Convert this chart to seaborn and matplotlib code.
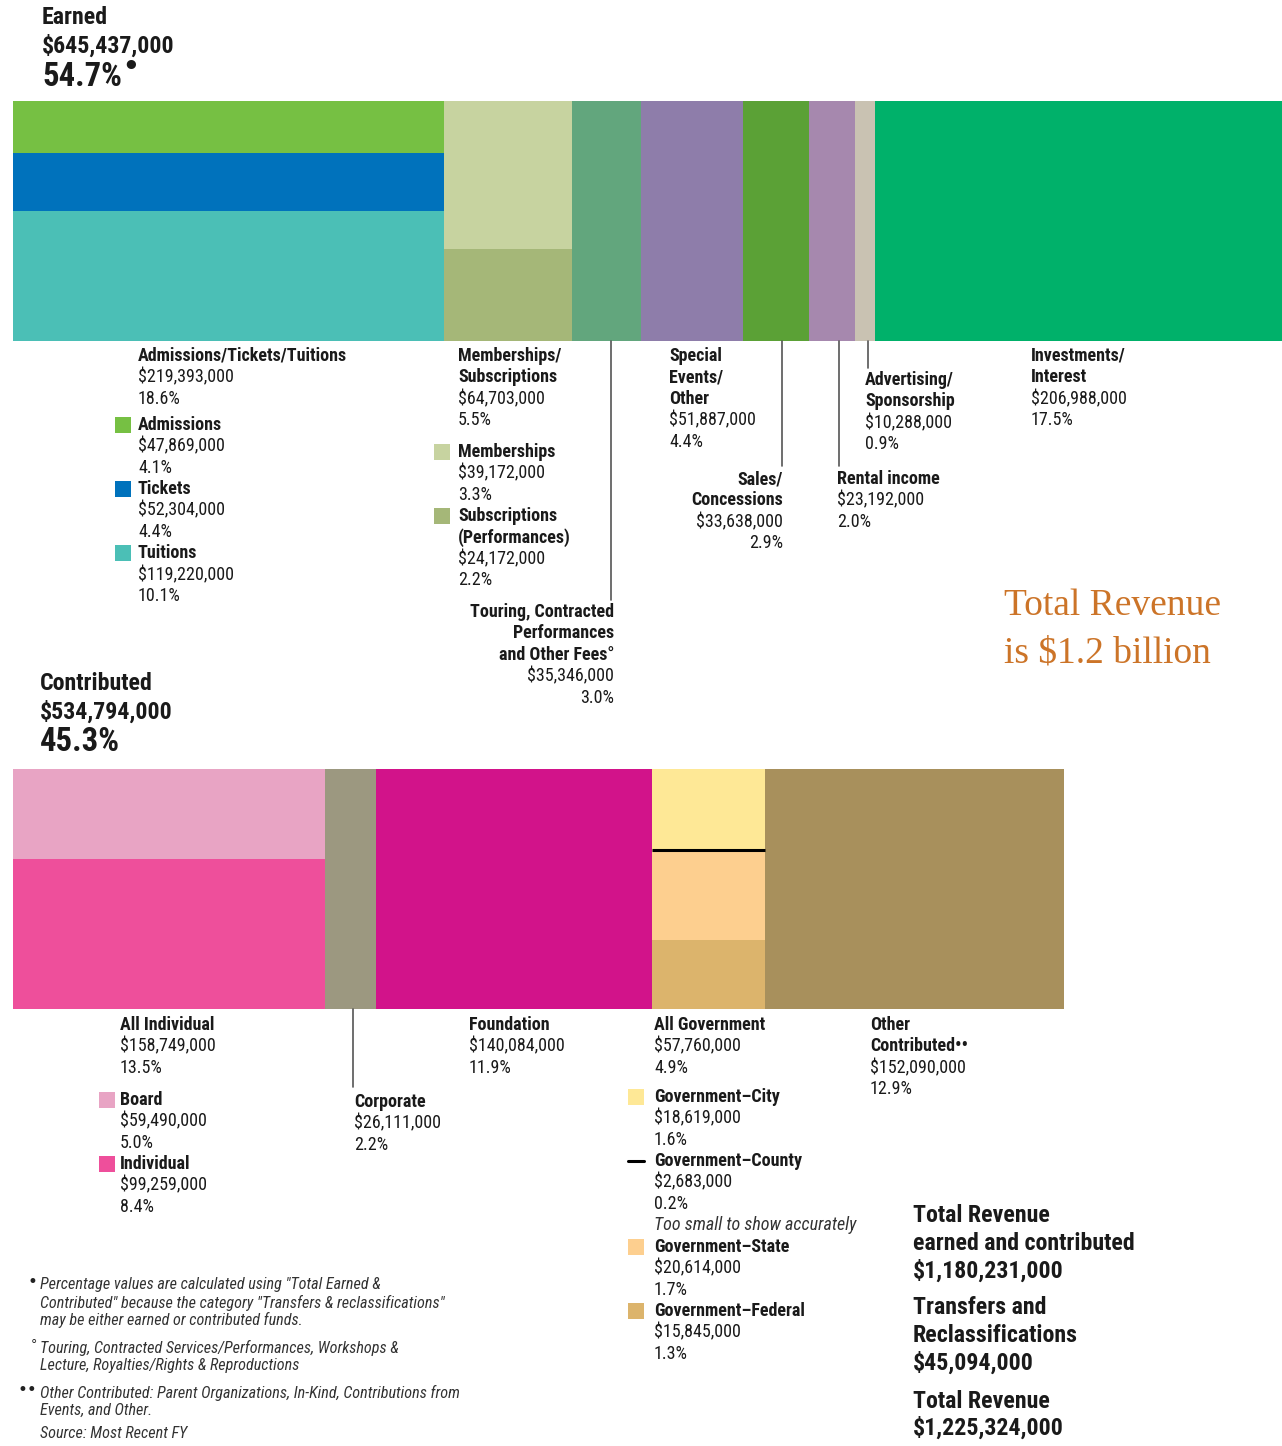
import matplotlib
matplotlib.use("Agg")
import matplotlib.pyplot as plt
from matplotlib import font_manager
from matplotlib.patches import Rectangle
import seaborn as sns

# ---- data (dollars) ----
earned_labels = ["Admissions/Tickets/Tuitions", "Memberships/\nSubscriptions",
                 "Touring, Contracted\nPerformances\nand Other Fees°", "Special\nEvents/\nOther",
                 "Sales/\nConcessions", "Rental income", "Advertising/\nSponsorship",
                 "Investments/\nInterest"]
earned_values = [219393000, 64703000, 35346000, 51887000, 33638000, 23192000, 10288000, 206988000]
earned_pcts = [18.6, 5.5, 3.0, 4.4, 2.9, 2.0, 0.9, 17.5]
earned_colors = [None, None, "#62A67D", "#8E7DAA", "#5BA136", "#A688AE", "#C9C2B2", "#00B16A"]

admissions_labels = ["Admissions", "Tickets", "Tuitions"]
admissions_values = [47869000, 52304000, 119220000]
admissions_pcts = [4.1, 4.4, 10.1]
admissions_colors = ["#76C043", "#0072BC", "#4BBFB6"]

member_labels = ["Memberships", "Subscriptions\n(Performances)"]
member_values = [39172000, 24172000]
member_pcts = [3.3, 2.2]
member_colors = ["#C7D3A0", "#A5B778"]

contrib_labels = ["All Individual", "Corporate", "Foundation", "All Government", "Other\nContributed••"]
contrib_values = [158749000, 26111000, 140084000, 57760000, 152090000]
contrib_pcts = [13.5, 2.2, 11.9, 4.9, 12.9]
contrib_colors = [None, "#9C9880", "#D2138A", None, "#A8905C"]

indiv_labels = ["Board", "Individual"]
indiv_values = [59490000, 99259000]
indiv_pcts = [5.0, 8.4]
indiv_colors = ["#E8A4C4", "#EE4F9B"]

gov_labels = ["Government–City", "Government–County", "Government–State", "Government–Federal"]
gov_values = [18619000, 2683000, 20614000, 15845000]
gov_pcts = [1.6, 0.2, 1.7, 1.3]
gov_colors = ["#FEE896", "#000000", "#FDCF8F", "#DCB46C"]

earned_total, earned_pct = 645437000, 54.7
contrib_total, contrib_pct = 534794000, 45.3
total_ec = 1180231000
transfers = 45094000
total_rev = 1225324000

# ---- style ----
sns.set_theme(style="white")
fonts = font_manager.fontManager.ttflist


def has(name, stretch=None):
    return any(f.name == name and (stretch is None or str(f.stretch) == stretch) for f in fonts)


STRETCH = "normal"
if has("Roboto Condensed"):
    FONT, SCALE = "Roboto Condensed", 1.0
elif has("Liberation Sans Narrow"):
    FONT, SCALE = "Liberation Sans Narrow", 1.0
elif has("DejaVu Sans", "condensed"):
    FONT, SCALE, STRETCH = "DejaVu Sans", 0.95, "condensed"
elif has("Roboto"):
    FONT, SCALE = "Roboto", 0.92
else:
    FONT, SCALE = "DejaVu Sans", 0.85
SERIF = "Liberation Serif" if has("Liberation Serif") else "DejaVu Serif"
plt.rcParams["font.family"] = [FONT, "DejaVu Sans"]
plt.rcParams["font.stretch"] = STRETCH

W, H = 1282, 1446
fig = plt.figure(figsize=(W / 100, H / 100), dpi=100)
fig.patch.set_facecolor("white")

# bar axis: x in $ millions, y in layout pixels
scale = (W - 13) / (earned_total / 1e6)  # px per million
ax = fig.add_axes([0, 0, 1, 1])
ax.set_xlim(-13 / scale, (W - 13) / scale)
ax.set_ylim(H, 0)
ax.axis("off")

# text axis in pixels
at = fig.add_axes([0, 0, 1, 1])
at.set_xlim(0, W)
at.set_ylim(H, 0)
at.axis("off")
at.patch.set_alpha(0)

BAR_H = 240


def stacked_column(left, width, top, vals, cols):
    tot = sum(vals)
    y = top
    for v, c in zip(vals, cols):
        h = BAR_H * v / tot
        ax.bar(left, h, width=width, bottom=y, align="edge", color=c, linewidth=0)
        y += h


def draw_row(values, colors, top, subs):
    rows = []
    left = 0.0
    for i, (v, c) in enumerate(zip(values, colors)):
        w = v / 1e6
        rows.append((left, w))
        if i in subs:
            sv, sc = subs[i]
            stacked_column(left, w, top, sv, sc)
        else:
            ax.bar(left, BAR_H, width=w, bottom=top, align="edge", color=c, linewidth=0)
        left += w
    return rows


earned_cols = draw_row(earned_values, earned_colors, 101,
                       {0: (admissions_values, admissions_colors),
                        1: (member_values, member_colors)})

gov_draw = [gov_values[0], gov_values[2], gov_values[3]]
gov_draw_c = [gov_colors[0], gov_colors[2], gov_colors[3]]
contrib_cols = draw_row(contrib_values, contrib_colors, 769,
                        {0: (indiv_values, indiv_colors),
                         3: (gov_draw, gov_draw_c)})
# county too small: shown as a line between city and state
gl, gw = contrib_cols[3]
yc = 769 + BAR_H * gov_draw[0] / sum(gov_draw)
ax.hlines(yc, gl, gl + gw, color="black", linewidth=2.2)

LH = 21.4
FS = 13 * SCALE
TXT = "#1a1a1a"


def money(v):
    return f"${v:,.0f}"


def block(x, y, title, value, pct, ha="left", size=FS, extra=None):
    lines = [(t, "bold") for t in title.split("\n")]
    lines += [(money(value), "normal"), (f"{pct:.1f}%", "normal")]
    if extra:
        lines.append((extra, "italic"))
    for i, (t, w) in enumerate(lines):
        style = "italic" if w == "italic" else "normal"
        weight = "normal" if w == "italic" else w
        at.text(x, y + i * LH, t, ha=ha, va="center", fontsize=size,
                fontweight=weight, fontstyle=style, color="#333333" if w == "italic" else TXT)
    return y + len(lines) * LH


def swatch(x, y, c, dash=False):
    if dash:
        at.plot([x, x + 16], [y, y], color=c, linewidth=2.2)
    else:
        at.add_patch(Rectangle((x, y - 8), 16, 16, color=c, linewidth=0))


def leader(x, y0, y1):
    at.plot([x, x], [y0, y1], color="#555555", linewidth=1.2)


HS = 17.2 * SCALE
BS = 23.5 * SCALE

# ---- headers ----
at.text(42, 18, "Earned", fontsize=HS, fontweight="bold", va="center", color=TXT)
at.text(42, 46, money(earned_total), fontsize=HS, fontweight="bold", va="center", color=TXT)
pct_txt = at.text(42, 77, f"{earned_pct:.1f}%", fontsize=BS, fontweight="bold", va="center", color=TXT)
fig.canvas.draw()
bb = pct_txt.get_window_extent()
at.text(bb.x1, 68, "•", family="DejaVu Sans", fontsize=19, fontweight="bold",
        va="center", ha="left", color=TXT)

at.text(40, 684, "Contributed", fontsize=HS, fontweight="bold", va="center", color=TXT)
at.text(40, 712, money(contrib_total), fontsize=HS, fontweight="bold", va="center", color=TXT)
at.text(40, 742, f"{contrib_pct:.1f}%", fontsize=BS, fontweight="bold", va="center", color=TXT)

# ---- earned labels ----
block(138, 356, earned_labels[0], earned_values[0], earned_pcts[0])
y = 425
for lab, v, p, c in zip(admissions_labels, admissions_values, admissions_pcts, admissions_colors):
    swatch(115, y, c)
    y = block(138, y, lab, v, p)

block(458, 356, earned_labels[1], earned_values[1], earned_pcts[1])
y = 452
for lab, v, p, c in zip(member_labels, member_values, member_pcts, member_colors):
    swatch(434, y, c)
    y = block(458, y, lab, v, p)

leader(611, 341, 600)
block(614, 612, earned_labels[2], earned_values[2], earned_pcts[2], ha="right")
block(669, 356, earned_labels[3], earned_values[3], earned_pcts[3])
leader(782, 341, 466)
block(783, 479, earned_labels[4], earned_values[4], earned_pcts[4], ha="right")
leader(839, 341, 466)
block(837, 479, earned_labels[5], earned_values[5], earned_pcts[5])
leader(868, 341, 368)
block(865, 380, earned_labels[6], earned_values[6], earned_pcts[6])
block(1031, 356, earned_labels[7], earned_values[7], earned_pcts[7])

# ---- big title ----
at.text(1004, 606, "Total Revenue", family=SERIF, fontsize=27, color="#CC7428", va="center")
at.text(1004, 653, "is $1.2 billion", family=SERIF, fontsize=27, color="#CC7428", va="center")

# ---- contributed labels ----
block(120, 1025, contrib_labels[0], contrib_values[0], contrib_pcts[0])
y = 1100
for lab, v, p, c in zip(indiv_labels, indiv_values, indiv_pcts, indiv_colors):
    swatch(99, y, c)
    y = block(120, y, lab, v, p)

leader(353, 1009, 1087)
block(354, 1102, contrib_labels[1], contrib_values[1], contrib_pcts[1])
block(469, 1025, contrib_labels[2], contrib_values[2], contrib_pcts[2])
block(654, 1025, contrib_labels[3], contrib_values[3], contrib_pcts[3])
y = 1097
for lab, v, p, c in zip(gov_labels, gov_values, gov_pcts, gov_colors):
    dash = lab.endswith("County")
    swatch(628, y, c, dash=dash)
    y = block(654, y, lab, v, p, extra="Too small to show accurately" if dash else None)
block(870, 1025, contrib_labels[4], contrib_values[4], contrib_pcts[4])

# ---- totals ----
tot_lines = [("Total Revenue", 1215), ("earned and contributed", 1243), (money(total_ec), 1271),
             ("Transfers and", 1308), ("Reclassifications", 1336), (money(transfers), 1363),
             ("Total Revenue", 1401), (money(total_rev), 1428)]
for t, yy in tot_lines:
    at.text(913, yy, t, fontsize=HS, fontweight="bold", va="center", color=TXT)

# ---- footnotes ----
NS = 11.6 * SCALE
notes = [("•", 1285, ["Percentage values are calculated using \"Total Earned &",
                      "Contributed\" because the category \"Transfers & reclassifications\"",
                      "may be either earned or contributed funds."]),
         ("°", 1348, ["Touring, Contracted Services/Performances, Workshops &",
                      "Lecture, Royalties/Rights & Reproductions"]),
         ("••", 1393, ["Other Contributed: Parent Organizations, In-Kind, Contributions from",
                       "Events, and Other."]),
         ("", 1434, ["Source: Most Recent FY"])]
for mark, y0, lines in notes:
    if mark:
        at.text(37, y0 - 3, mark, family="DejaVu Sans", fontsize=12 if "•" in mark else 9,
                ha="right", va="center", color="#222222")
    for i, t in enumerate(lines):
        at.text(40, y0 + i * 17.5, t, fontsize=NS, fontstyle="italic", va="center", color="#333333")

fig.savefig("out.png", dpi=100, facecolor="white")
